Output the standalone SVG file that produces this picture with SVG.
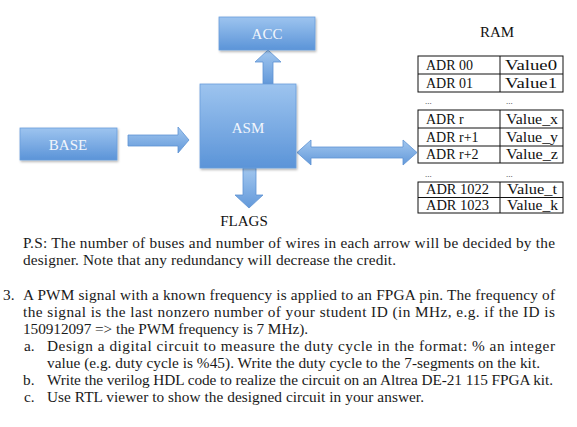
<svg xmlns="http://www.w3.org/2000/svg" width="577" height="427" viewBox="0 0 577 427">
<style>
.box{fill:url(#blue);stroke:#6a9fdc;stroke-width:0.8;filter:url(#sh)}
.arr{fill:url(#blue2);stroke:#5e93d3;stroke-width:0.8}
.lbl{font-family:"Liberation Serif","DejaVu Serif",serif;font-size:15px;fill:#f2f6fc;text-anchor:middle}
.blk{font-family:"Liberation Serif","DejaVu Serif",serif;font-size:15px;fill:#111}
.cell{font-family:"Liberation Serif","DejaVu Serif",serif;font-size:14px;fill:#111}
.val{font-family:"Liberation Serif","DejaVu Serif",serif;font-size:14.5px;fill:#111}
.dots{font-family:"Liberation Serif","DejaVu Serif",serif;font-size:9px;fill:#333}
.tbl{fill:none;stroke:#111;stroke-width:1}
.para{font-family:"Liberation Serif","DejaVu Serif",serif;font-size:15.3px;fill:#1a1a1a}
</style>
<defs>
<linearGradient id="blue" x1="0" y1="0" x2="0" y2="1">
<stop offset="0" stop-color="#9dc4ef"/>
<stop offset="1" stop-color="#5b94d8"/>
</linearGradient>
<linearGradient id="blue2" x1="0" y1="0" x2="0" y2="1">
<stop offset="0" stop-color="#a2c7ef"/>
<stop offset="1" stop-color="#6399da"/>
</linearGradient>
<filter id="sh" x="-10%" y="-10%" width="130%" height="130%">
<feDropShadow dx="1" dy="1.5" stdDeviation="1.2" flood-color="#000" flood-opacity="0.3"/>
</filter>
</defs>
<rect width="577" height="427" fill="#fff"/>

<g id="connectors">
<polygon class="arr" points="263,84 263,62 255,62 268,50 281,62 273,62 273,84"/>
<polygon class="arr" points="128,135 178,135 178,127 189,140 178,153 178,146 128,146"/>
<polygon class="arr" points="243,168 256,168 256,195 263,195 249,208 235,195 243,195"/>
<polygon class="arr" points="297,152.5 311,140 311,147 403,147 403,140 417,152.5 403,165 403,158 311,158 311,165"/>
</g>

<g id="ACC">
<rect class="box" x="219" y="17" width="96" height="33"/>
<text class="lbl" x="267" y="39">ACC</text>
</g>
<g id="ASM">
<rect class="box" x="200" y="84" width="96" height="84"/>
<text class="lbl" x="248" y="133">ASM</text>
</g>
<g id="BASE">
<rect class="box" x="20" y="128" width="97" height="32"/>
<text class="lbl" x="68" y="150">BASE</text>
</g>
<g id="FLAGS">
<text class="blk" x="244" y="226" text-anchor="middle">FLAGS</text>
</g>

<g id="RAM">
<text class="blk" x="497" y="37" text-anchor="middle">RAM</text>
<rect class="tbl" x="418" y="56" width="145" height="36"/>
<line class="tbl" x1="418" y1="74" x2="563" y2="74"/>
<line class="tbl" x1="500" y1="56" x2="500" y2="92"/>
<text class="cell" x="426" y="70">ADR 00</text>
<text class="val" x="505" y="70" textLength="52" lengthAdjust="spacingAndGlyphs">Value0</text>
<text class="cell" x="426" y="88">ADR 01</text>
<text class="val" x="505" y="88" textLength="52" lengthAdjust="spacingAndGlyphs">Value1</text>
<text class="dots" x="425" y="104">...</text>
<text class="dots" x="506" y="104">...</text>
<rect class="tbl" x="418" y="110" width="145" height="53"/>
<line class="tbl" x1="418" y1="128" x2="563" y2="128"/>
<line class="tbl" x1="418" y1="146" x2="563" y2="146"/>
<line class="tbl" x1="500" y1="110" x2="500" y2="163"/>
<text class="cell" x="426" y="124">ADR r</text>
<text class="val" x="506" y="124" textLength="52" lengthAdjust="spacingAndGlyphs">Value_x</text>
<text class="cell" x="426" y="142">ADR r+1</text>
<text class="val" x="506" y="142" textLength="52" lengthAdjust="spacingAndGlyphs">Value_y</text>
<text class="cell" x="426" y="159">ADR r+2</text>
<text class="val" x="506" y="159" textLength="52" lengthAdjust="spacingAndGlyphs">Value_z</text>
<text class="dots" x="425" y="177">...</text>
<text class="dots" x="506" y="177">...</text>
<rect class="tbl" x="418" y="182" width="145" height="31"/>
<line class="tbl" x1="418" y1="197.5" x2="563" y2="197.5"/>
<line class="tbl" x1="500" y1="182" x2="500" y2="213"/>
<text class="cell" x="426" y="194" textLength="63" lengthAdjust="spacingAndGlyphs">ADR 1022</text>
<text class="val" x="507" y="194" textLength="50" lengthAdjust="spacingAndGlyphs">Value_t</text>
<text class="cell" x="426" y="210" textLength="63" lengthAdjust="spacingAndGlyphs">ADR 1023</text>
<text class="val" x="507" y="210" textLength="51" lengthAdjust="spacingAndGlyphs">Value_k</text>
</g>

<g id="text">
<text class="para" x="23" y="248" textLength="532" lengthAdjust="spacing">P.S: The number of buses and number of wires  in each arrow will be decided by the</text>
<text class="para" x="23" y="265" textLength="373" lengthAdjust="spacing">designer. Note that any redundancy will decrease the credit.</text>
<text class="para" x="3" y="300">3.</text>
<text class="para" x="23" y="300" textLength="532" lengthAdjust="spacing">A PWM signal with a known frequency is applied to an FPGA pin. The frequency of</text>
<text class="para" x="23" y="317" textLength="532" lengthAdjust="spacing">the signal is the last nonzero number of your student ID (in MHz, e.g. if the ID is</text>
<text class="para" x="23" y="334" textLength="285" lengthAdjust="spacing">150912097 =&gt; the PWM frequency is 7 MHz).</text>
<text class="para" x="24" y="351">a.</text>
<text class="para" x="47" y="351" textLength="508" lengthAdjust="spacing">Design a digital circuit to measure the duty cycle in the format: % an integer</text>
<text class="para" x="47" y="368" textLength="493" lengthAdjust="spacing">value (e.g. duty cycle is %45). Write the duty cycle to the 7-segments on the kit.</text>
<text class="para" x="23" y="385">b.</text>
<text class="para" x="47" y="385" textLength="506" lengthAdjust="spacing">Write the verilog HDL code to realize the circuit on an Altrea DE-21 115 FPGA kit.</text>
<text class="para" x="24" y="402">c.</text>
<text class="para" x="47" y="402" textLength="377" lengthAdjust="spacing">Use RTL viewer to show the designed circuit in your answer.</text>
</g>
</svg>
